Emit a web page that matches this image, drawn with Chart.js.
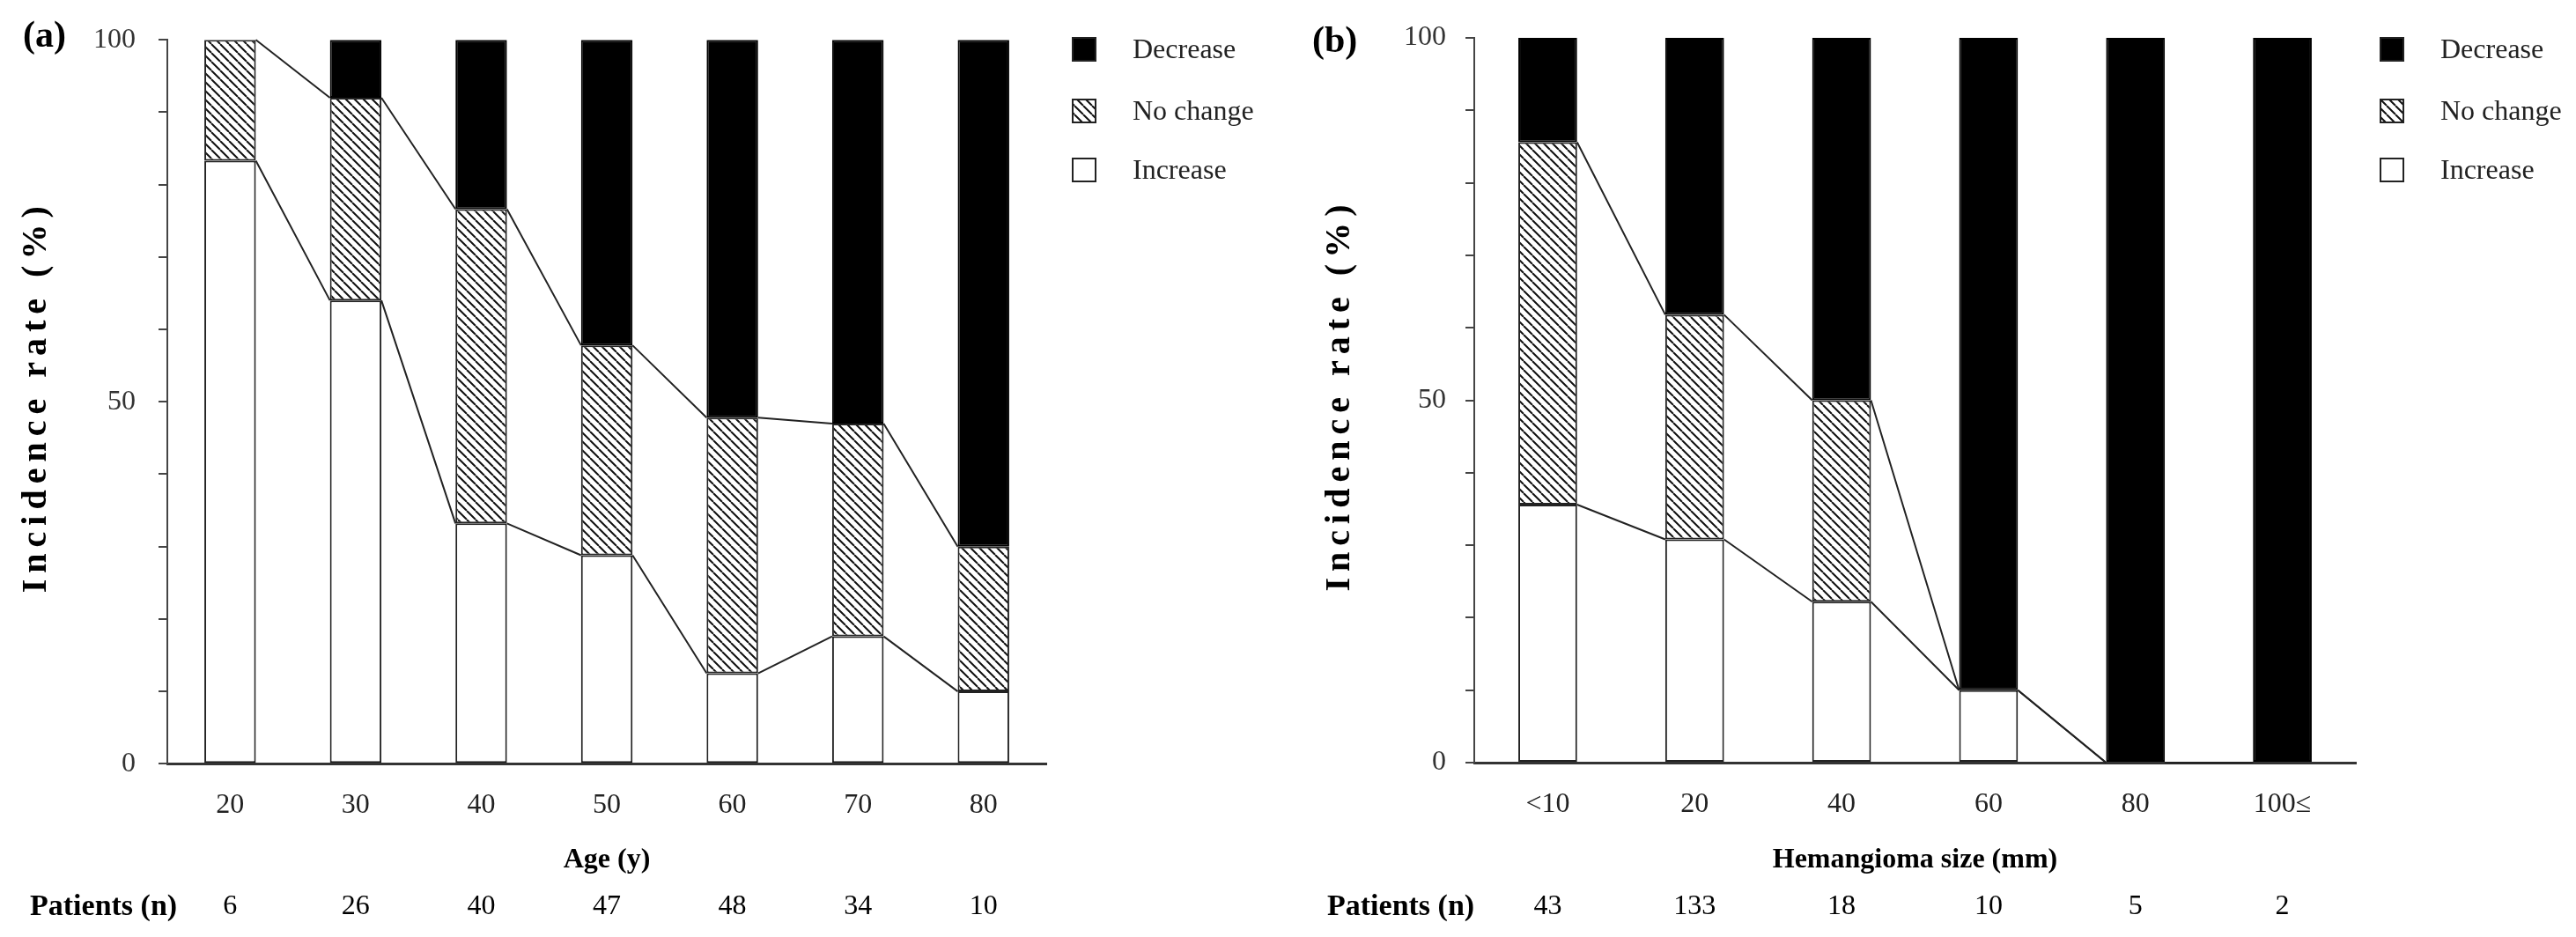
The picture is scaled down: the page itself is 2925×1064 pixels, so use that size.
<!DOCTYPE html>
<html>
<head>
<meta charset="utf-8">
<script src="https://cdn.jsdelivr.net/npm/chart.js@4.4.0/dist/chart.umd.min.js"></script>
<style>
  html, body { margin: 0; padding: 0; background: #fff; }
  #wrap { position: relative; width: 2925px; height: 1064px; }
  canvas { position: absolute; top: 0; }
  #chartA { left: 0; }
  #chartB { left: 1460px; }
</style>
</head>
<body>
<div id="wrap">
  <canvas id="chartA" width="1460" height="1064"></canvas>
  <canvas id="chartB" width="1465" height="1064"></canvas>
</div>
<script>
// (a) age groups
var ageLabels   = ['20', '30', '40', '50', '60', '70', '80'];
var ageIncrease = [83.3, 64, 33.2, 28.8, 12.5, 17.6, 10];
var ageNoChange = [16.7, 28, 43.4, 29, 35.3, 29.4, 20];
var ageDecrease = [0, 8, 23.4, 42.2, 52.2, 53, 70];
var agePatients = [6, 26, 40, 47, 48, 34, 10];

// (b) hemangioma size
var sizeLabels   = ['<10', '20', '40', '60', '80', '100\u2264'];
var sizeIncrease = [35.6, 30.8, 22.2, 10, 0, 0];
var sizeNoChange = [50, 31, 27.8, 0, 0, 0];
var sizeDecrease = [14.4, 38.2, 50, 90, 100, 100];
var sizePatients = [43, 133, 18, 10, 5, 2];

var yTicks = [0, 50, 100];

Chart.defaults.font.family = '"Liberation Serif", "Times New Roman", serif';
Chart.defaults.color = '#222';

function hatch(ctx) {
  var s = 10;
  var c = document.createElement('canvas');
  c.width = s; c.height = s;
  var g = c.getContext('2d');
  g.fillStyle = '#fff';
  g.fillRect(0, 0, s, s);
  g.strokeStyle = '#111';
  g.lineWidth = 2;
  g.beginPath();
  for (var k = -1; k <= 1; k++) {
    g.moveTo(k * s, 0);
    g.lineTo(k * s + s, s);
  }
  g.stroke();
  return ctx.createPattern(c, 'repeat');
}

// lines joining the segment tops of neighbouring bars
var linksPlugin = {
  id: 'links',
  afterDatasetsDraw: function (chart) {
    var ctx = chart.ctx, y = chart.scales.y;
    var ds = chart.data.datasets;
    var bars = chart.getDatasetMeta(0).data;
    function cum(i, n) {
      var t = 0;
      for (var k = 0; k < n; k++) t += ds[k].data[i];
      return t;
    }
    ctx.save();
    ctx.strokeStyle = '#222';
    ctx.lineWidth = 2;
    [1, 2].forEach(function (n) {
      ctx.beginPath();
      for (var i = 0; i < bars.length - 1; i++) {
        ctx.moveTo(bars[i].x + bars[i].width / 2, y.getPixelForValue(cum(i, n)));
        ctx.lineTo(bars[i + 1].x - bars[i + 1].width / 2, y.getPixelForValue(cum(i + 1, n)));
      }
      ctx.stroke();
    });
    ctx.restore();
  }
};

// legend, panel tag, y title and patients row
var extrasPlugin = {
  id: 'extras',
  afterDraw: function (chart, args, opts) {
    var ctx = chart.ctx, area = chart.chartArea, x = chart.scales.x;
    var ds = chart.data.datasets;
    ctx.save();
    // legend
    var rows = [56, 126, 193];
    var bx = area.right + opts.legendGap;
    [2, 1, 0].forEach(function (d, r) {
      var yc = rows[r];
      ctx.fillStyle = ds[d].backgroundColor;
      ctx.fillRect(bx, yc - 14, 28, 28);
      ctx.strokeStyle = '#222';
      ctx.lineWidth = 2;
      ctx.strokeRect(bx + 1, yc - 13, 26, 26);
      ctx.fillStyle = '#222';
      ctx.font = '32px "Liberation Serif"';
      ctx.textAlign = 'left';
      ctx.textBaseline = 'middle';
      ctx.fillText(ds[d].label, bx + 69, yc + 2);
    });
    // tag
    ctx.fillStyle = '#000';
    ctx.font = 'bold 42px "Liberation Serif"';
    ctx.fillText(opts.tag, opts.tagX, opts.tagY);
    // y axis title, spaced out like the original
    ctx.save();
    ctx.translate(opts.yTitleX, (area.top + area.bottom) / 2 - 6);
    ctx.rotate(-Math.PI / 2);
    ctx.textAlign = 'center';
    ctx.font = 'bold 40px "Liberation Serif"';
    ctx.letterSpacing = '7px';
    ctx.fillText('Incidence rate (%)', 0, 0);
    ctx.restore();
    // patients row
    ctx.font = 'bold 34px "Liberation Serif"';
    ctx.textAlign = 'left';
    ctx.fillText('Patients (n)', opts.patientsX, 1030);
    ctx.font = '32px "Liberation Serif"';
    ctx.textAlign = 'center';
    opts.patients.forEach(function (p, i) {
      ctx.fillText(String(p), x.getPixelForValue(i), 1030);
    });
    ctx.restore();
  }
};

function makeChart(id, cfg) {
  var ctx = document.getElementById(id).getContext('2d');
  var pat = hatch(ctx);
  var canvasW = ctx.canvas.width;
  return new Chart(ctx, {
    type: 'bar',
    data: {
      labels: cfg.labels,
      datasets: [
        { label: 'Increase', data: cfg.inc, backgroundColor: '#fff', borderColor: '#222', borderWidth: 2, borderSkipped: false },
        { label: 'No change', data: cfg.nc, backgroundColor: pat, borderColor: '#222', borderWidth: 2, borderSkipped: false },
        { label: 'Decrease', data: cfg.dec, backgroundColor: '#000', borderColor: '#000', borderWidth: 2, borderSkipped: false }
      ]
    },
    options: {
      responsive: false,
      animation: false,
      events: [],
      layout: { padding: { left: cfg.padLeft, right: canvasW - cfg.right, top: cfg.top, bottom: 0 } },
      datasets: { bar: { categoryPercentage: 1, barPercentage: cfg.barPct } },
      plugins: {
        legend: { display: false },
        tooltip: { enabled: false },
        extras: {
          legendGap: cfg.legendGap, tag: cfg.tag, tagX: cfg.tagX, tagY: cfg.tagY,
          patientsX: cfg.patientsX, patients: cfg.patients, yTitleX: cfg.yTitleX
        }
      },
      scales: {
        x: {
          stacked: true,
          grid: { display: false, drawTicks: false },
          border: { color: '#333', width: 3 },
          ticks: { font: { size: 32 }, color: '#222', padding: 28 },
          title: {
            display: true, text: cfg.xTitle, color: '#000',
            font: { size: 32, weight: 'bold' }, padding: { top: 0, bottom: 68 }
          },
          afterFit: function (s) { s.height = 1064 - cfg.bottom; }
        },
        y: {
          stacked: true, min: 0, max: 100,
          ticks: {
            stepSize: 10, autoSkip: false, font: { size: 32 }, color: '#333', padding: cfg.tickPad,
            callback: function (v) { return yTicks.indexOf(v) >= 0 ? v : ''; }
          },
          grid: { drawOnChartArea: false, tickLength: 10, color: '#444', lineWidth: 2 },
          border: { color: '#444', width: 2 },
          title: { display: false },
          afterFit: function (s) { s.width = cfg.axisX - cfg.padLeft; }
        }
      }
    },
    plugins: [linksPlugin, extrasPlugin]
  });
}

makeChart('chartA', {
  labels: ageLabels, inc: ageIncrease, nc: ageNoChange, dec: ageDecrease, patients: agePatients,
  xTitle: 'Age (y)', tag: '(a)', tagX: 26, tagY: 42, yTitleX: 42,
  padLeft: 18, axisX: 190, right: 1188, top: 39, bottom: 867.3,
  barPct: 0.41, tickPad: 26, legendGap: 29, patientsX: 34
});

makeChart('chartB', {
  labels: sizeLabels, inc: sizeIncrease, nc: sizeNoChange, dec: sizeDecrease, patients: sizePatients,
  xTitle: 'Hemangioma size (mm)', tag: '(b)', tagX: 30, tagY: 48, yTitleX: 62,
  padLeft: 38, axisX: 214, right: 1215, top: 43, bottom: 866,
  barPct: 0.40, tickPad: 22, legendGap: 27, patientsX: 47
});
</script>
</body>
</html>
